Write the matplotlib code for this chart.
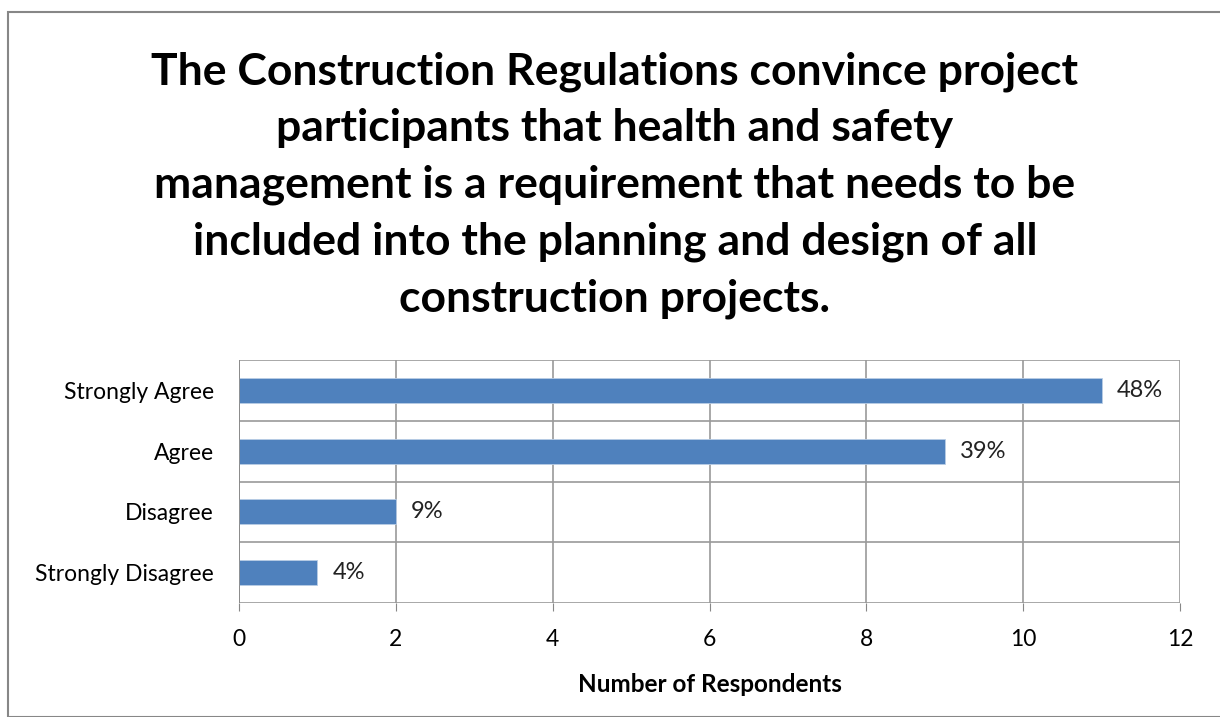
import numpy as np
import matplotlib
matplotlib.use("Agg")
import matplotlib.pyplot as plt
from matplotlib.patches import Rectangle

categories = ["Strongly Agree", "Agree", "Disagree", "Strongly Disagree"]
respondents = [11, 9, 2, 1]
percent_labels = ["48%", "39%", "9%", "4%"]
x_ticks = [0, 2, 4, 6, 8, 10, 12]

title = ("The Construction Regulations convince project\n"
         "participants that health and safety\n"
         "management is a requirement that needs to be\n"
         "included into the planning and design of all\n"
         "construction projects.")

plt.rcParams["font.family"] = ["Lato", "DejaVu Sans"]

W, H = 1220, 717
fig = plt.figure(figsize=(W / 100, H / 100), dpi=100)

# chart frame
fig.patches.append(Rectangle((8 / W, 0), 1.0, 1 - 12 / H, transform=fig.transFigure,
                             fill=False, edgecolor="#878787", linewidth=1.5))

left, right, top, bottom = 239, 1180, 360, 603
ax = fig.add_axes([left / W, 1 - bottom / H, (right - left) / W, (bottom - top) / H])

y = np.arange(len(categories))
ax.barh(y, respondents, height=0.41, color="#4F81BD", edgecolor="#B9CDE5", linewidth=0.6, zorder=3)
for yi, v, lab in zip(y, respondents, percent_labels):
    ax.text(v + 0.19, yi, lab, va="center", ha="left", fontsize=17, color="#222222")

ax.set_ylim(len(categories) - 0.5, -0.5)
ax.set_xlim(0, 12)
ax.set_xticks(x_ticks)
ax.set_yticks(y)
ax.set_yticklabels(categories, fontsize=16.5)
ax.tick_params(axis="x", labelsize=16.5, length=6, color="#878787", pad=13)
ax.tick_params(axis="y", length=0, pad=18)

# horizontal grid between categories, vertical grid at major ticks
for b in np.arange(-0.5, len(categories), 1.0):
    ax.axhline(b, color="#9a9a9a", linewidth=1.2, zorder=1)
ax.xaxis.grid(True, color="#9a9a9a", linewidth=1.2, zorder=1)
ax.set_axisbelow(True)
for s in ax.spines.values():
    s.set_visible(False)
ax.axvline(0, color="#878787", linewidth=1.2, zorder=4)

ax.set_xlabel("Number of Respondents", fontsize=17.5, fontweight="bold", labelpad=16)

fig.text(615 / W, 1 - 185 / H, title, ha="center", va="center", fontsize=32,
         fontweight="bold", linespacing=1.5)

fig.savefig("out.png", dpi=100)
